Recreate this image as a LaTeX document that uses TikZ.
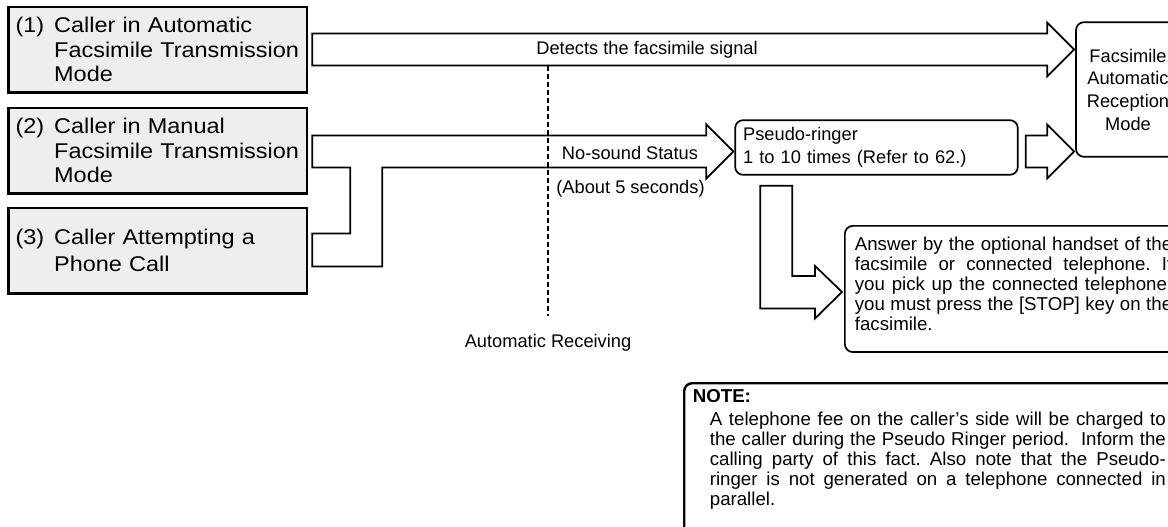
\documentclass[tikz,border=0pt]{standalone}
\usepackage{fontspec}
\setmainfont{Liberation Sans}
\newfontfamily\headfont{Liberation Sans}[FakeStretch=1.1]
\usetikzlibrary{calc}
\definecolor{boxgray}{HTML}{EEEEEE}
\frenchspacing

\begin{document}
\begin{tikzpicture}[x=0.75pt,y=-0.75pt,
  callerbox/.style={draw,line width=2pt,fill=boxgray,minimum width=224pt,minimum height=64pt,
    text width=213pt,align=left,inner xsep=5.5pt,font=\headfont\fontsize{16}{18.3}\selectfont},
  roundbox/.style={draw,line width=1.3pt,rounded corners=6pt,font=\fontsize{13.7}{17}\selectfont},
  blockarrow/.style={draw,line width=1.3pt,fill=white,line join=miter},
  signaltext/.style={font=\fontsize{13.7}{15}\selectfont},
  bodytext/.style={font=\fontsize{14}{15}\selectfont},
]
  \path[use as bounding box,fill=white] (0,0) rectangle (1168,526);

  % callers
  \node[callerbox] (caller1) at (157.5,49.5)
    {\makebox[29pt][l]{(1)}Caller in Automatic\\\hspace*{29pt}Facsimile Transmission\\\hspace*{29pt}Mode};
  \node[callerbox] (caller2) at (157.5,150.5)
    {\makebox[29pt][l]{(2)}Caller in Manual\\\hspace*{29pt}Facsimile Transmission\\\hspace*{29pt}Mode};
  \node[callerbox] (caller3) at (157.5,250.5)
    {\makebox[29pt][l]{(3)}Caller Attempting a\\[2pt]\hspace*{29pt}Phone Call};

  % receiving side
  \node[roundbox,minimum width=78pt,minimum height=101pt,align=center] (autorx) at (1128,89.5)
    {Facsimile\\Automatic\\Reception\\Mode};
  \node[roundbox,minimum width=212pt,minimum height=41pt,text width=200pt,align=left,inner xsep=6pt]
    (pseudo) at (876.5,147.5) {Pseudo-ringer\\1 to 10 times (Refer to 62.)};
  \node[roundbox,bodytext,anchor=north west,text width=238pt,align=justify,inner xsep=7.5pt,inner ysep=8pt]
    (answer) at (844,225)
    {Answer by the optional handset of the\linebreak
     facsimile or connected telephone. If\linebreak
     you pick up the connected telephone,\linebreak
     you must press the [STOP] key on the\linebreak
     facsimile.\rule[-8.5pt]{0pt}{8.5pt}};
  \node[roundbox,bodytext,line width=1.8pt,anchor=north west,text width=380pt,align=left,
    inner xsep=6.5pt,inner ysep=5pt] (note) at (683,382)
    {\textbf{NOTE:}\\[2pt]
     \hspace*{12.75pt}\parbox[t]{342pt}{\spaceskip=0pt\xspaceskip=0pt
     A telephone fee on the caller's side will be charged to\linebreak
     the caller during the Pseudo Ringer period.\ \ Inform the\linebreak
     calling party of this fact. Also note that the Pseudo-\linebreak
     ringer is not generated on a telephone connected in\linebreak
     parallel.\rule[-17pt]{0pt}{17pt}}};

  % arrows
  \draw[blockarrow] ($(caller1.east)+(4,-16)$) -- ($(autorx.west |- caller1.east)+(-28,-16)$)
    -- ++(0,-11) -- ($(autorx.west |- caller1.east)+(-1,0)$) -- ++(-27,27) -- ++(0,-11)
    -- ($(caller1.east)+(4,16)$) -- cycle;

  \draw[blockarrow] ($(caller2.east)+(4,-15)$) coordinate (m0)
    -- ($(pseudo.west |- m0)+(-28,0)$) -- ++(0,-11) -- ++(27,27) -- ++(-27,27) -- ++(0,-11)
    -- ($(m0)+(70,32)$) |- ($(caller3.east)+(4,16)$) -- ++(0,-33) -- ++(38,0)
    |- ($(m0)+(0,32)$) -- cycle;

  \draw[blockarrow] ($(pseudo.east)+(7,-12)$) -- ($(autorx.west |- pseudo.east)+(-28,-12)$)
    -- ++(0,-11) -- ($(autorx.west |- pseudo.east)+(-1,4)$) -- ++(-27,27) -- ++(0,-11)
    -- ($(pseudo.east)+(7,20)$) -- cycle;

  \coordinate (a0) at ($(pseudo.south west)+(26,10)$);
  \draw[blockarrow] ($(a0)+(32,0)$) |- ($(answer.west)+(-29,-13)$) -- ++(0,-10)
    -- ($(answer.west)+(-2,3)$) -- ++(-27,26.5) -- ++(0,-10) -| (a0) -- cycle;

  % labels
  \node[signaltext] (detect) at (647,50) {Detects the facsimile signal};
  \node[signaltext] (nosound) at (630,153) {No-sound Status};
  \node[signaltext] (about) at (630.5,189) {(About 5 seconds)};

  \coordinate (recvtop) at (548,66);
  \node[signaltext] (autorecv) at (548,343) {Automatic Receiving};
  \draw[line width=0.9pt,dash pattern=on 4pt off 2pt] (recvtop) -- ([yshift=10pt]autorecv.north);
\end{tikzpicture}
\end{document}
